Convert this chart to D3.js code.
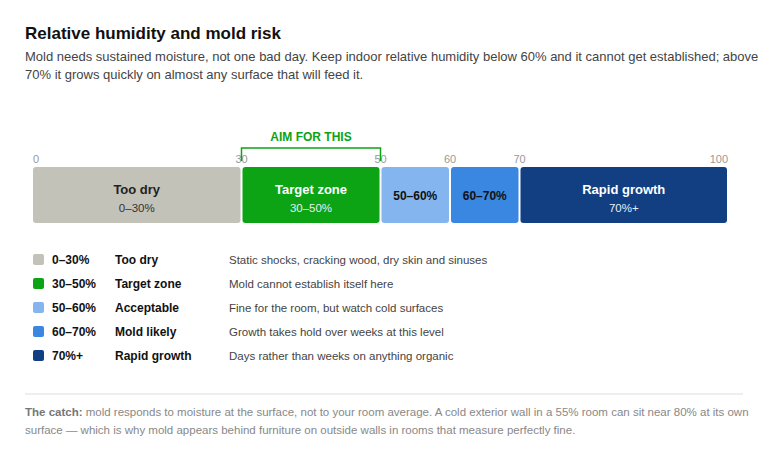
<!DOCTYPE html><html><head><meta charset="utf-8"><script src="https://cdn.jsdelivr.net/npm/d3@7"></script>
<style>body{margin:0;background:#fff;font-family:"Liberation Sans",Arial,sans-serif}</style></head><body><svg id="c" width="768" height="457"></svg>
<script>
const bandStarts=[0,30,50,60,70];
const bandEnds=[30,50,60,70,100];
const bandLabels=["Too dry","Target zone","","","Rapid growth"];
const bandRanges=["0–30%","30–50%","50–60%","60–70%","70%+"];
const bandNames=["Too dry","Target zone","Acceptable","Mold likely","Rapid growth"];
const bandDescs=["Static shocks, cracking wood, dry skin and sinuses","Mold cannot establish itself here","Fine for the room, but watch cold surfaces","Growth takes hold over weeks at this level","Days rather than weeks on anything organic"];
const colors=["#c2c2b8","#0ca314","#85b5ee","#3a87e2","#113f82"];
const tickVals=[0,30,50,60,70,100];
const svg=d3.select("#c");
const x=d3.scaleLinear().domain([0,100]).range([33,728]);
svg.append("text").attr("x",25).attr("y",39).attr("font-size",17).attr("font-weight","bold").attr("fill","#111").text("Relative humidity and mold risk");
[["Mold needs sustained moisture, not one bad day. Keep indoor relative humidity below 60% and it cannot get established; above",61],["70% it grows quickly on almost any surface that will feed it.",79]].forEach(([t,y])=>svg.append("text").attr("x",25).attr("y",y).attr("font-size",13).attr("fill","#444").text(t));
// ticks
tickVals.forEach((v,i)=>svg.append("text").attr("x",x(v)).attr("y",163).attr("font-size",11).attr("fill","#999")
 .attr("text-anchor",i==0?"start":i==tickVals.length-1?"end":"middle").text(v));
// bracket
svg.append("path").attr("d",`M${x(30)},161V148H${x(50)}V161`).attr("fill","none").attr("stroke","#0ca314").attr("stroke-width",1.5);
svg.append("text").attr("x",(x(30)+x(50))/2).attr("y",141).attr("text-anchor","middle").attr("font-size",12).attr("font-weight","bold").attr("fill","#0ca314").text("AIM FOR THIS");
bandStarts.forEach((s,i)=>{
 const x0=x(s)+(i?1:0), x1=x(bandEnds[i])-1, cx=(x0+x1)/2;
 svg.append("rect").attr("x",x0).attr("y",167).attr("width",x1-x0).attr("height",56).attr("rx",3).attr("fill",colors[i]);
 const dark=i>=1&&i!=2&&i!=3, fc=(i==1||i==4)?"#fff":"#222";
 if(bandLabels[i]){
  svg.append("text").attr("x",cx).attr("y",194).attr("text-anchor","middle").attr("font-size",13).attr("font-weight","bold").attr("fill",fc).text(bandLabels[i]);
  svg.append("text").attr("x",cx).attr("y",212).attr("text-anchor","middle").attr("font-size",11.5).attr("fill",fc==="#fff"?"#e8eef5":"#333").text(bandRanges[i]);
 } else svg.append("text").attr("x",cx).attr("y",200).attr("text-anchor","middle").attr("font-size",12).attr("font-weight","bold").attr("fill","#111").text(bandRanges[i]);
});
bandNames.forEach((n,i)=>{
 const y=260+i*24;
 svg.append("rect").attr("x",33).attr("y",y-6).attr("width",11).attr("height",11).attr("rx",2).attr("fill",colors[i]);
 svg.append("text").attr("x",52).attr("y",y+4).attr("font-size",12).attr("font-weight","bold").attr("fill","#111").text(bandRanges[i]);
 svg.append("text").attr("x",115).attr("y",y+4).attr("font-size",12).attr("font-weight","bold").attr("fill","#111").text(n);
 svg.append("text").attr("x",229).attr("y",y+4).attr("font-size",11.5).attr("fill","#444").text(bandDescs[i]);
});
svg.append("line").attr("x1",25).attr("x2",743).attr("y1",394).attr("y2",394).attr("stroke","#ddd");
const f1=svg.append("text").attr("x",25).attr("y",416).attr("font-size",11.5).attr("fill","#888");
f1.append("tspan").attr("font-weight","bold").attr("fill","#777").text("The catch:");
f1.append("tspan").text(" mold responds to moisture at the surface, not to your room average. A cold exterior wall in a 55% room can sit near 80% at its own");
svg.append("text").attr("x",25).attr("y",434).attr("font-size",11.5).attr("fill","#888").text("surface — which is why mold appears behind furniture on outside walls in rooms that measure perfectly fine.");
</script></body></html>
